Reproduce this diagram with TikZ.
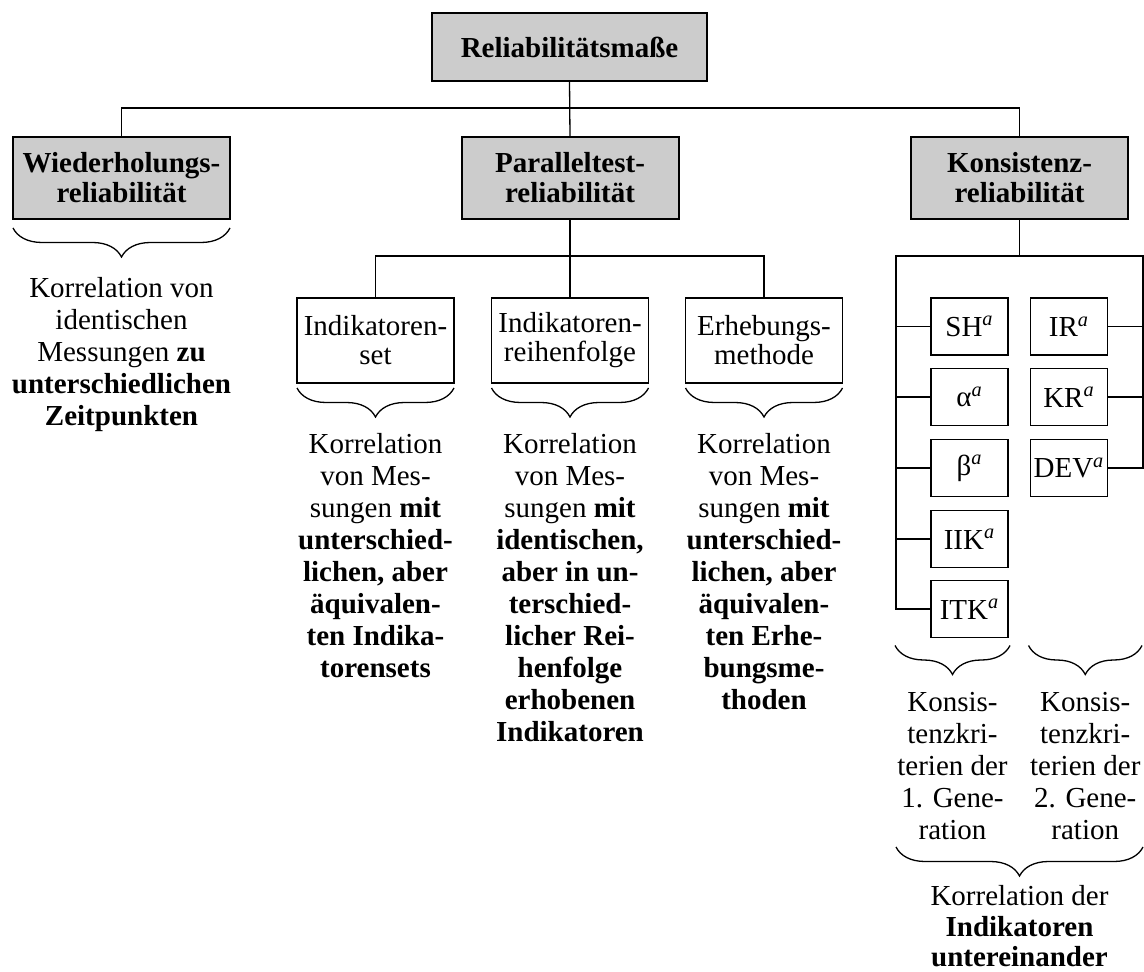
\documentclass[tikz,border=0pt]{standalone}
\usepackage{fontspec}
\setmainfont{Liberation Serif}
\usetikzlibrary{decorations.pathreplacing,calc}
\definecolor{boxgray}{RGB}{204,204,204}
\begin{document}
\begin{tikzpicture}[x=0.5pt,y=-0.5pt,
  every node/.style={font=\fontsize{14.5}{16}\selectfont, inner sep=0pt, outer sep=0pt},
  titlebox/.style={draw, line width=1pt, fill=boxgray, align=center,
    font=\fontsize{14.5}{15}\selectfont\bfseries},
  subbox/.style={draw, line width=0.9pt, align=center, minimum width=78.5pt, minimum height=42.5pt,
    font=\fontsize{14.5}{14.5}\selectfont},
  smallbox/.style={draw, line width=0.9pt, minimum width=38.5pt, minimum height=28.5pt},
  conn/.style={line width=0.65pt},
  bracepath/.style={line width=0.65pt, decorate, decoration={brace, mirror, amplitude=14.5pt}},
  desc/.style={align=center, anchor=north}]
\useasboundingbox (0,0) rectangle (1144,972);

% level 0 and 1
\node[titlebox, minimum width=137.5pt, minimum height=34pt] (top) at (569.5,47) {Reliabilitätsmaße};
\node[titlebox, minimum width=108.5pt, minimum height=41pt] (wied) at (121.5,178) {Wiederholungs-\\reliabilität};
\node[titlebox, minimum width=108.5pt, minimum height=41pt] (par) at (570,178) {Paralleltest-\\reliabilität};
\node[titlebox, minimum width=108.5pt, minimum height=41pt] (kons) at (1019.5,178) {Konsistenz-\\reliabilität};

\coordinate (h1) at (570,108);
\draw[conn] (top.south) -- (par.north);
\draw[conn] (wied.north) |- (h1) -| (kons.north);

% parallel test subtree
\node[subbox] (ind1) at (375.5,340.5) {Indikatoren-\\set};
\node[subbox] (ind2) at (570,340.5) {Indikatoren-\\reihenfolge};
\node[subbox] (erh) at (764,340.5) {Erhebungs-\\methode};
\coordinate (h2) at (570,256);
\draw[conn] (par.south) -- (ind2.north);
\draw[conn] (ind1.north) |- (h2) -| (erh.north);

% consistency subtree
\node[smallbox] (sh)  at (969.5,326.5) {SH\textsuperscript{\textit{a}}};
\node[smallbox] (alp) at (969.5,397) {α\textsuperscript{\textit{a}}};
\node[smallbox] (bet) at (969.5,468) {β\textsuperscript{\textit{a}}};
\node[smallbox] (iik) at (969.5,539) {IIK\textsuperscript{\textit{a}}};
\node[smallbox] (itk) at (969.5,609) {ITK\textsuperscript{\textit{a}}};
\node[smallbox] (ir)  at (1069,326.5) {IR\textsuperscript{\textit{a}}};
\node[smallbox] (kr)  at (1069,397) {KR\textsuperscript{\textit{a}}};
\node[smallbox] (dev) at (1069,468) {DEV\textsuperscript{\textit{a}}};

\coordinate (kl) at (896,256);
\coordinate (kr2) at (1143,256);
\draw[conn] (kons.south) -- (kons.south |- kl);
\draw[conn] (itk.west) -| (kl) -- (kr2) |- (dev.east);
\foreach \n in {sh,alp,bet,iik} \draw[conn] (\n.west) -- (\n.west -| kl);
\foreach \n in {ir,kr} \draw[conn] (\n.east) -- (\n.east -| kr2);

% braces
\draw[bracepath] ($(wied.south west)+(0,9)$) -- ($(wied.south east)+(0,9)$);
\foreach \n in {ind1,ind2,erh}
  \draw[bracepath] ($(\n.south west)+(0,5)$) -- ($(\n.south east)+(0,5)$);
\coordinate (g1a) at ($(kl |- itk.south)+(-1,8)$);
\coordinate (g1b) at ($(itk.south east)+(2,8)$);
\coordinate (g2a) at ($(ir.west |- itk.south)+(-2,8)$);
\coordinate (g2b) at ($(kr2 |- itk.south)+(-1,8)$);
\draw[bracepath] (g1a) -- (g1b);
\draw[bracepath] (g2a) -- (g2b);
\coordinate (bba) at (896,847);
\coordinate (bbb) at (1143,847);
\draw[bracepath] (bba) -- (bbb);

% descriptions
\node[desc] (dwied) at (121.5,277) {Korrelation von\\identischen\\Messungen \textbf{zu}\\\textbf{unterschiedlichen}\\\textbf{Zeitpunkten}};
\node[desc] (dind1) at (375.5,433) {Korrelation\\von Mes-\\sungen \textbf{mit}\\\textbf{unterschied-}\\\textbf{lichen, aber}\\\textbf{äquivalen-}\\\textbf{ten Indika-}\\\textbf{torensets}};
\node[desc] (dind2) at (570,433) {Korrelation\\von Mes-\\sungen \textbf{mit}\\\textbf{identischen,}\\\textbf{aber in un-}\\\textbf{terschied-}\\\textbf{licher Rei-}\\\textbf{henfolge}\\\textbf{erhobenen}\\\textbf{Indikatoren}};
\node[desc] (derh) at (764,433) {Korrelation\\von Mes-\\sungen \textbf{mit}\\\textbf{unterschied-}\\\textbf{lichen, aber}\\\textbf{äquivalen-}\\\textbf{ten Erhe-}\\\textbf{bungsme-}\\\textbf{thoden}};
\node[desc] (dgen1) at ($(g1a)!0.5!(g1b)+(0,47)$) {Konsis-\\tenzkri-\\terien der\\1. Gene-\\ration};
\node[desc] (dgen2) at ($(g2a)!0.5!(g2b)+(0,47)$) {Konsis-\\tenzkri-\\terien der\\2. Gene-\\ration};
\node[align=center, anchor=south, font=\fontsize{14.5}{15.3}\selectfont] (dall) at (1019.5,967) {Korrelation der\\\textbf{Indikatoren}\\\textbf{untereinander}};
\end{tikzpicture}
\end{document}
